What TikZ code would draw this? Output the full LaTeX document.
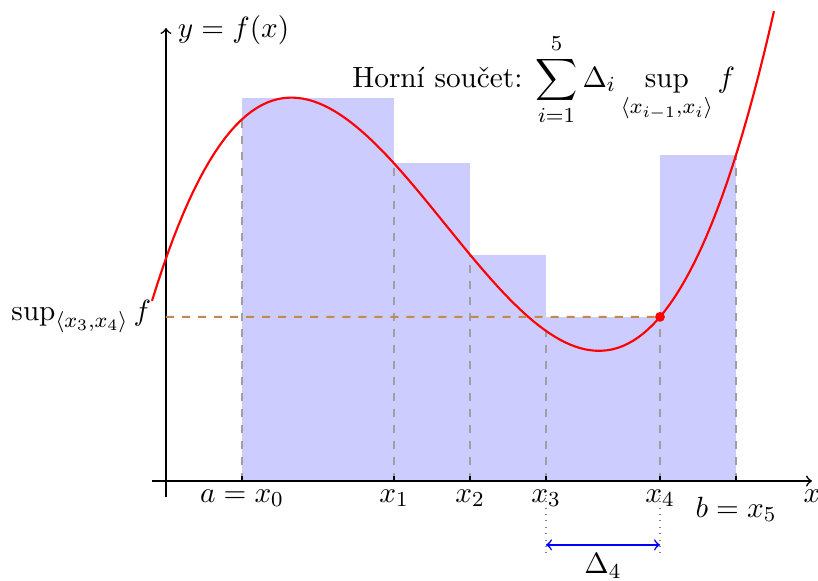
\documentclass[tikz,border=0pt,11pt]{standalone}
\usepackage{amsmath}
\definecolor{supcol}{HTML}{C8874A}
\usetikzlibrary{calc, positioning}

\begin{document}
\begin{tikzpicture}[
  bar/.style={fill=blue!20, draw=none},
  guide/.style={dashed, gray!75},
  ticklabel/.style={below, inner sep=3pt},
  declare function={f(\x)=0.1006*\x*\x*\x - 1.1086*\x*\x + 2.837*\x + 2.93;},
]
\useasboundingbox (-2.184,-1.303) rectangle (8.579,6.329);

% bars of the upper sum
\foreach \l/\r/\h in {1/3/5.045, 3/4/4.18, 4/5/2.978, 5/6.5/2.159, 6.5/7.5/4.29}
  \fill[bar] (\l,0) rectangle (\r,\h);
\foreach \x in {1,3,4,5,6.5,7.5}
  \draw[guide] (\x,0) -- (\x,{f(\x)});

% axes
\coordinate (xs) at (-0.184,0);
\coordinate (xe) at (8.5,0);
\coordinate (ys) at (0,-0.21);
\coordinate (ye) at (0,5.96);
\draw[->, semithick] (xs) -- (xe);
\draw[->, semithick] (ys) -- (ye);
\node[below, inner sep=3pt] (xlab) at (xe) {$x$};
\node[right, inner sep=2pt] (ylab) at (0.08,5.93) {$y=f(x)$};

% ticks and labels
\foreach \x in {1,3,4,5,6.5,7.5}
  \draw[semithick] (\x,0) -- (\x,0.06);
\node[ticklabel] (x0) at (1,0) {$a=x_0$};
\node[ticklabel] (x1) at (3,0) {$x_1$};
\node[ticklabel] (x2) at (4,0) {$x_2$};
\node[ticklabel] (x3) at (5,0) {$x_3$};
\node[ticklabel] (x4) at (6.5,0) {$x_4$};
\node[ticklabel, yshift=-1mm] (x5) at (7.5,0) {$b=x_5$};

% function
\draw[red, thick, domain=-0.184:8.0, samples=120] plot (\x,{f(\x)});
\node[circle, fill=red, inner sep=1.3pt] (dot) at (6.5,{f(6.5)}) {};
\coordinate (supstart) at (0,2.159);
\draw[dashed, supcol, thick] (supstart) -- (dot);
\node[left, inner sep=2pt] (suplab) at (-0.12,2.159) {$\sup_{\langle x_3,x_4\rangle} f$};

% width of the fourth interval
\coordinate (d3) at (5,-0.84);
\coordinate (d4) at (6.5,-0.84);
\draw[dotted, gray] (5,-0.18) -- (5,-0.97);
\draw[dotted, gray] (6.5,-0.18) -- (6.5,-0.97);
\draw[<->, blue, semithick] (d3) -- node[below, inner sep=3pt, text=black] (dlab) {$\Delta_4$} (d4);

\node (upper) at (4.97,5.28) {Horní součet: $\displaystyle\sum_{i=1}^{5}\Delta_i \sup_{\langle x_{i-1},x_i\rangle} f$};
\end{tikzpicture}
\end{document}
